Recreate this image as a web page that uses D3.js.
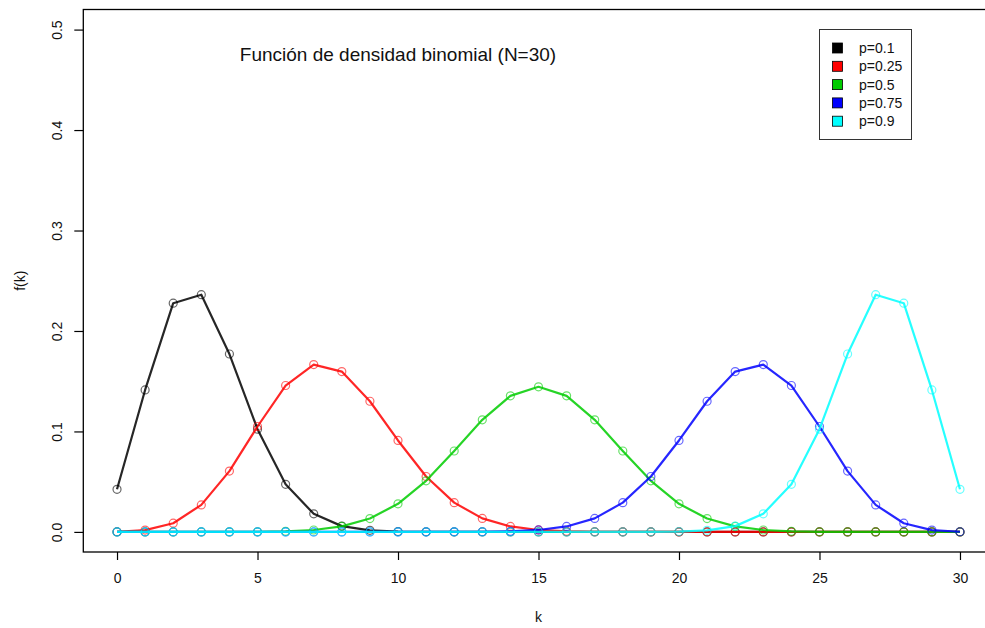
<!DOCTYPE html>
<html>
<head>
<meta charset="utf-8">
<script src="https://cdn.jsdelivr.net/npm/d3@7"></script>
<style>
  html, body { margin: 0; padding: 0; background: #fff; }
  svg { display: block; font-family: "Liberation Sans", Arial, Helvetica, sans-serif; }
</style>
</head>
<body>
<svg id="chart" width="985" height="628"></svg>
<script>
// Binomial densities f(k), N = 30, k = 0..30
const ks = d3.range(0, 31);
const probs = ["0.1", "0.25", "0.5", "0.75", "0.9"];
const colors = ["#000000", "#ff0000", "#00cd00", "#0000ff", "#00ffff"];

const p010 = [0.04239, 0.14130, 0.22766, 0.23609, 0.17707, 0.10230, 0.04736, 0.01804,
  0.00576, 0.00157, 0.00037, 0.00007, 0.00001, 0, 0, 0, 0, 0, 0, 0, 0, 0, 0, 0, 0, 0, 0, 0, 0, 0, 0];
const p025 = [0.00018, 0.00179, 0.00865, 0.02690, 0.06053, 0.10492, 0.14572, 0.16654,
  0.15960, 0.13004, 0.09103, 0.05517, 0.02912, 0.01344, 0.00544, 0.00193, 0.00060, 0.00017,
  0.00004, 0.00001, 0, 0, 0, 0, 0, 0, 0, 0, 0, 0, 0];
const p050 = [0, 0, 0, 0, 0.00003, 0.00013, 0.00055, 0.00190, 0.00545, 0.01332, 0.02798,
  0.05088, 0.08055, 0.11154, 0.13544, 0.14446, 0.13544, 0.11154, 0.08055, 0.05088, 0.02798,
  0.01332, 0.00545, 0.00190, 0.00055, 0.00013, 0.00003, 0, 0, 0, 0];
const p075 = [0, 0, 0, 0, 0, 0, 0, 0, 0, 0, 0, 0.00001, 0.00004, 0.00017, 0.00060, 0.00193,
  0.00544, 0.01344, 0.02912, 0.05517, 0.09103, 0.13004, 0.15960, 0.16654, 0.14572, 0.10492,
  0.06053, 0.02690, 0.00865, 0.00179, 0.00018];
const p090 = [0, 0, 0, 0, 0, 0, 0, 0, 0, 0, 0, 0, 0, 0, 0, 0, 0, 0, 0.00001, 0.00007,
  0.00037, 0.00157, 0.00576, 0.01804, 0.04736, 0.10230, 0.17707, 0.23609, 0.22766, 0.14130, 0.04239];
const seriesValues = [p010, p025, p050, p075, p090];

const xTicks = [0, 5, 10, 15, 20, 25, 30];
const yTicks = [0, 0.1, 0.2, 0.3, 0.4, 0.5];
const yTickLabels = ["0.0", "0.1", "0.2", "0.3", "0.4", "0.5"];

const titleText = "Función de densidad binomial (N=30)";
const xLabel = "k";
const yLabel = "f(k)";

const svg = d3.select("#chart");

// plot region (axis limits padded 4% each side)
const plotLeft = 83.3, plotRight = 993.7, plotTop = 9.5, plotBottom = 552;
const x = d3.scaleLinear().domain([-1.2, 31.2]).range([plotLeft, plotRight]);
const y = d3.scaleLinear().domain([-0.02, 0.52]).range([plotBottom, plotTop]);

// frame
svg.append("rect")
  .attr("x", plotLeft).attr("y", plotTop)
  .attr("width", plotRight - plotLeft).attr("height", plotBottom - plotTop)
  .attr("fill", "none").attr("stroke", "#000").attr("stroke-width", 1.3);

// x axis
const xAxis = svg.append("g")
  .attr("transform", `translate(0,${plotBottom})`)
  .call(d3.axisBottom(x).tickValues(xTicks).tickSize(8).tickPadding(13)
    .tickFormat(d3.format("d")));
xAxis.select(".domain").remove();
xAxis.selectAll("line").attr("stroke", "#000").attr("stroke-width", 1.2);
xAxis.selectAll("text").attr("font-size", 14).attr("fill", "#111")
  .attr("font-family", "Liberation Sans, Arial, sans-serif");

// y axis with labels parallel to the axis
const yAxis = svg.append("g")
  .attr("transform", `translate(${plotLeft},0)`)
  .call(d3.axisLeft(y).tickValues(yTicks).tickSize(9).tickFormat((d, i) => yTickLabels[i]));
yAxis.select(".domain").remove();
yAxis.selectAll("line").attr("stroke", "#000").attr("stroke-width", 1.2);
yAxis.selectAll("text")
  .attr("x", null).attr("dy", null).attr("y", null)
  .attr("text-anchor", "middle")
  .attr("transform", `translate(${62 - plotLeft},0) rotate(-90)`)
  .attr("font-size", 14).attr("fill", "#111")
  .attr("font-family", "Liberation Sans, Arial, sans-serif");

// axis titles
svg.append("text")
  .attr("x", x(15)).attr("y", 622)
  .attr("text-anchor", "middle").attr("font-size", 14).attr("fill", "#111")
  .text(xLabel);
svg.append("text")
  .attr("transform", `translate(25,${(plotTop + plotBottom) / 2}) rotate(-90)`)
  .attr("text-anchor", "middle").attr("font-size", 14).attr("fill", "#111")
  .text(yLabel);

// chart title inside the plot
svg.append("text")
  .attr("x", 398).attr("y", 61)
  .attr("text-anchor", "middle").attr("font-size", 19).attr("fill", "#111")
  .text(titleText);

// density lines and open-circle markers
const line = d3.line().x((d, i) => x(ks[i])).y(d => y(d));
seriesValues.forEach((vals, si) => {
  const g = svg.append("g");
  g.append("path")
    .datum(vals)
    .attr("d", line)
    .attr("fill", "none")
    .attr("stroke", colors[si])
    .attr("stroke-opacity", 0.85)
    .attr("stroke-width", 2.2)
    .attr("stroke-linejoin", "round");
  g.selectAll("circle")
    .data(vals)
    .join("circle")
    .attr("cx", (d, i) => x(ks[i]))
    .attr("cy", d => y(d))
    .attr("r", 4)
    .attr("fill", "none")
    .attr("stroke", colors[si])
    .attr("stroke-opacity", 0.6)
    .attr("stroke-width", 1.2);
});

// legend
const legend = svg.append("g");
legend.append("rect")
  .attr("x", 819.5).attr("y", 29.5).attr("width", 92).attr("height", 110)
  .attr("fill", "#fff").attr("stroke", "#333").attr("stroke-width", 1);
probs.forEach((p, i) => {
  const cy = 48 + i * 18.3;
  legend.append("rect")
    .attr("x", 832.5).attr("y", cy - 5).attr("width", 10).attr("height", 10)
    .attr("fill", colors[i]).attr("stroke", "#000").attr("stroke-width", 0.8);
  legend.append("text")
    .attr("x", 859).attr("y", cy + 5)
    .attr("font-size", 14).attr("fill", "#111")
    .text("p=" + p);
});
</script>
</body>
</html>
